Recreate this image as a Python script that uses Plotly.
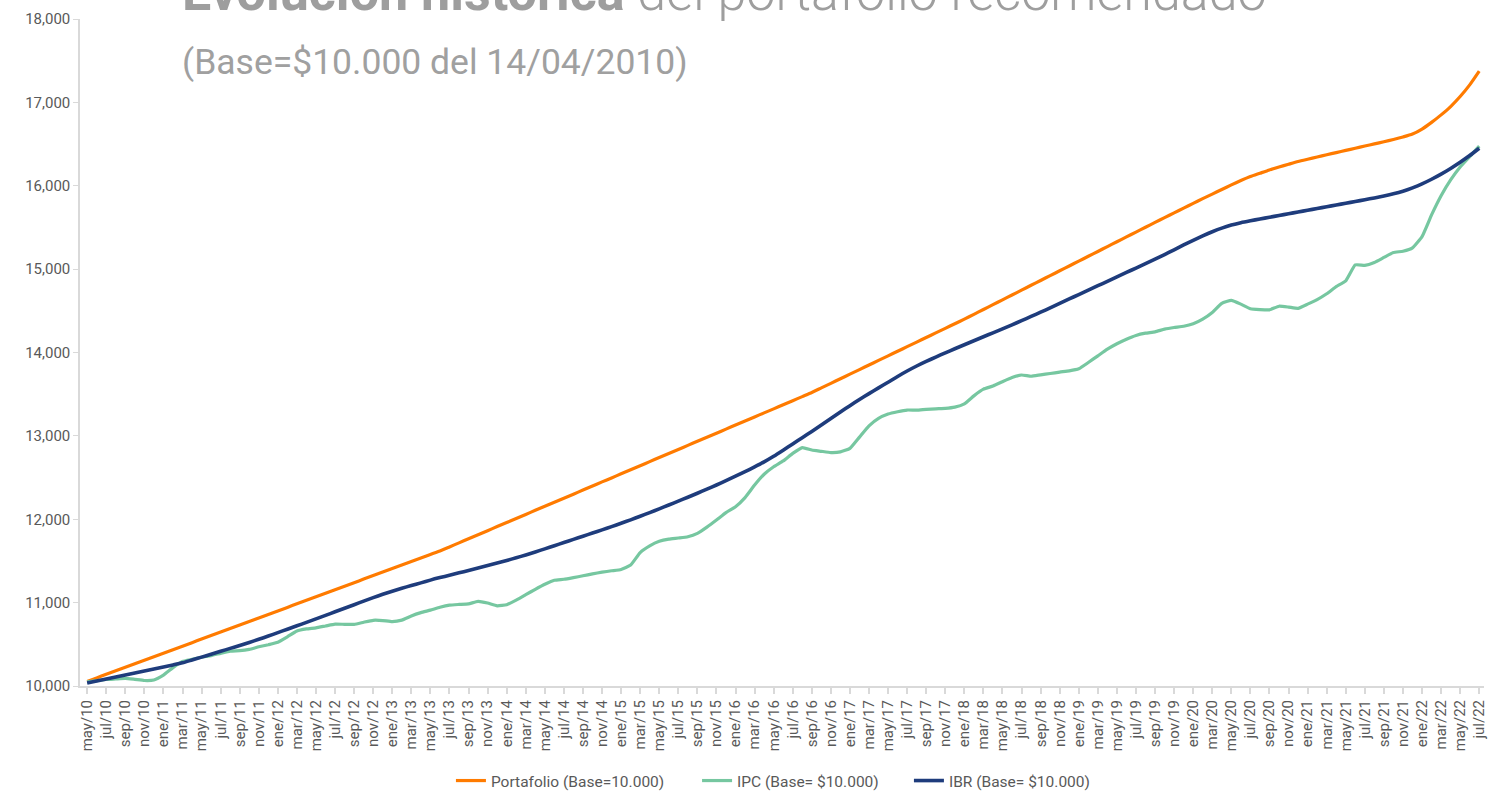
import plotly.graph_objects as go

# month labels may/10 .. jul/22
mes = ["ene", "feb", "mar", "abr", "may", "jun", "jul", "ago", "sep", "oct", "nov", "dic"]
meses = []
for anio in range(10, 23):
    for m in range(12):
        if anio == 10 and m < 4:
            continue
        if anio == 22 and m > 6:
            break
        meses.append(f"{mes[m]}/{anio:02d}")

portafolio = [
    10055, 10097, 10140, 10182, 10224, 10267, 10309, 10351, 10393, 10436,
    10478, 10520, 10563, 10605, 10647, 10690, 10732, 10774, 10816, 10859,
    10901, 10943, 10986, 11028, 11070, 11112, 11155, 11197, 11239, 11282,
    11324, 11366, 11409, 11451, 11493, 11535, 11578, 11620,
    11668, 11717, 11766, 11814, 11863, 11912, 11960, 12009, 12058, 12107,
    12155, 12204, 12253, 12301, 12350, 12399, 12448, 12496, 12545, 12594,
    12642, 12691, 12740, 12789, 12837, 12886, 12935, 12983, 13032, 13081,
    13130, 13178, 13227, 13276, 13324, 13373, 13422, 13471, 13520,
    13575, 13630, 13685, 13740, 13795, 13850, 13905, 13960, 14015, 14070,
    14125, 14180, 14235, 14290, 14345, 14400,
    14458, 14516, 14574, 14632, 14690, 14748, 14806, 14864, 14922, 14980,
    15038, 15096, 15154, 15212, 15270, 15328, 15386, 15444, 15502,
    15560, 15617, 15674, 15731, 15788, 15845, 15900, 15955, 16010, 16062,
    16110, 16150, 16190, 16225, 16258, 16290, 16318, 16345, 16372, 16398,
    16424, 16450, 16476, 16502, 16528, 16555, 16585, 16620,
    16680, 16760, 16850, 16950, 17070, 17210, 17375,
]

ipc = [
    10050, 10065, 10078, 10085, 10092, 10080, 10066, 10072, 10130, 10220,
    10295, 10320, 10345, 10365, 10392, 10418, 10424, 10440, 10470, 10495,
    10525, 10590, 10660, 10685, 10698, 10720, 10742, 10740, 10740, 10765,
    10788, 10785, 10772, 10790, 10840, 10880, 10910, 10945, 10970, 10978,
    10985, 11015, 10995, 10962, 10975, 11030, 11095, 11160, 11220, 11268,
    11280, 11300, 11322, 11345, 11365, 11382, 11398, 11450, 11600, 11680,
    11735, 11762, 11775, 11790, 11830, 11905, 11990, 12080, 12150, 12260,
    12410, 12540, 12630, 12700, 12790, 12860, 12830, 12815, 12800, 12808,
    12850, 12985, 13120, 13210, 13262, 13290, 13310, 13308, 13318, 13325,
    13330, 13345, 13385, 13480, 13560, 13598, 13650, 13700, 13730, 13715,
    13732, 13748, 13765, 13780, 13805, 13880, 13960, 14040, 14105, 14160,
    14205, 14232, 14248, 14280, 14300, 14315, 14345, 14400, 14480, 14590,
    14625, 14580, 14525, 14515, 14512, 14555, 14545, 14530, 14580, 14635,
    14705, 14790, 14860, 15050, 15045, 15080, 15140, 15200, 15215, 15255,
    15390, 15650, 15880, 16070, 16225, 16350, 16475,
]

ibr = [
    10035, 10059, 10083, 10107, 10131, 10155, 10179, 10203, 10228, 10252,
    10278, 10312, 10346, 10381, 10416, 10451, 10486, 10522, 10560, 10599,
    10640, 10681, 10722, 10763, 10805, 10847, 10890, 10932, 10975, 11018,
    11060, 11100, 11137, 11172, 11205, 11237, 11270, 11300,
    11328, 11357, 11386, 11415, 11445, 11475, 11506, 11538, 11572, 11608,
    11645, 11683, 11721, 11759, 11797, 11835, 11873, 11912, 11952, 11993,
    12036, 12080, 12125, 12171, 12217, 12264, 12312, 12361, 12411, 12463,
    12516, 12571, 12628, 12688,
    12755, 12828, 12903, 12978, 13053, 13130, 13208, 13286, 13362, 13436,
    13507, 13576, 13643, 13713,
    13778, 13838, 13893, 13945, 13996, 14045, 14093, 14141, 14189, 14236,
    14283, 14332, 14382, 14433, 14484, 14535, 14588, 14642, 14695, 14748,
    14801, 14854, 14907, 14960, 15013, 15066, 15120,
    15175, 15232, 15290, 15345, 15398, 15448, 15492, 15528, 15557, 15580,
    15601, 15622, 15643, 15664, 15685, 15706, 15727, 15748, 15769, 15790,
    15811, 15832, 15854, 15877, 15903, 15935, 15975, 16022, 16078, 16140,
    16208, 16282, 16362, 16450,
]

y_ticks = [10000, 11000, 12000, 13000, 14000, 15000, 16000, 17000, 18000]

gris = "#595959"
linea = "#d9d9d9"
gris_titulo = "#9e9e9e"

fig = go.Figure()
fig.add_trace(go.Scatter(x=meses, y=portafolio, mode="lines", name="Portafolio (Base=10.000)",
                         legend="legend",
                         line=dict(color="#ff7b00", width=3.2, shape="spline", smoothing=0.6)))
fig.add_trace(go.Scatter(x=meses, y=ipc, mode="lines", name="IPC (Base= $10.000)",
                         legend="legend2",
                         line=dict(color="#76c7a0", width=3.2, shape="spline", smoothing=0.4)))
fig.add_trace(go.Scatter(x=meses, y=ibr, mode="lines", name="IBR (Base= $10.000)",
                         legend="legend3",
                         line=dict(color="#1e3c7c", width=3.6, shape="spline", smoothing=0.6)))

def leyenda(x):
    return dict(orientation="h", x=x, xanchor="left", y=-0.1424, yanchor="middle",
                font=dict(size=15.5, color=gris), itemwidth=30, bgcolor="rgba(0,0,0,0)")

fig.update_layout(
    width=1512, height=791,
    margin=dict(l=80, r=28, t=19, b=105, autoexpand=False),
    paper_bgcolor="white", plot_bgcolor="white",
    font=dict(family="Roboto", color=gris),
    showlegend=True,
    legend=leyenda(0.2642),
    legend2=leyenda(0.4395),
    legend3=leyenda(0.5904),
    xaxis=dict(
        type="category", categoryorder="array", categoryarray=meses,
        range=[-0.75, 146.5], automargin=False,
        tickmode="array", tickvals=meses[::2], ticktext=meses[::2],
        tickangle=-90, tickfont=dict(size=15, color=gris),
        showline=True, linecolor=linea, linewidth=2,
        ticks="outside", ticklen=6, tickcolor=linea, tickwidth=1.5,
        showgrid=False, zeroline=False,
    ),
    yaxis=dict(
        range=[10000, 18000], tickvals=y_ticks, tickformat=",d", automargin=False,
        tickfont=dict(size=15, color=gris),
        showline=True, linecolor=linea, linewidth=1.5,
        ticks="outside", ticklen=5, tickcolor=linea,
        showgrid=False, zeroline=False,
    ),
)

fig.add_annotation(
    text="<b>Evolución histórica</b> del portafolio recomendado",
    xref="paper", yref="paper", x=0.0712, y=0.991, xanchor="left", yanchor="bottom",
    showarrow=False, font=dict(size=52, color=gris_titulo, family="Roboto", weight=300),
)
fig.add_annotation(
    text="(Base=$10.000 del 14/04/2010)",
    xref="paper", yref="paper", x=0.0712, y=0.935, xanchor="left", yanchor="middle",
    showarrow=False, font=dict(size=35.5, color="#a0a0a0", family="Roboto"),
)

fig.write_html("out.html", config={"displayModeBar": False},
               post_script="document.body.style.margin='0px';")
